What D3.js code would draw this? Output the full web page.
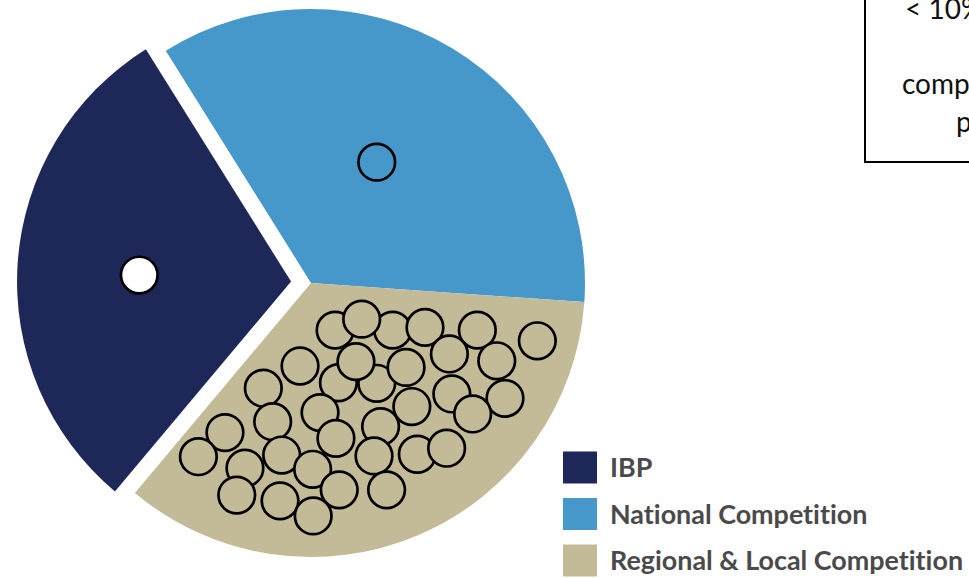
<!DOCTYPE html>
<html>
<head>
<meta charset="utf-8">
<script src="https://cdn.jsdelivr.net/npm/d3@7/dist/d3.min.js"></script>
<style>
  html, body { margin: 0; padding: 0; background: #fff; }
  svg { display: block; }
  text { font-variant-ligatures: none; }
</style>
</head>
<body>
<svg id="chart" width="969" height="578"></svg>
<script>
// Segment names and their share of the market (percent)
const categories = ["IBP", "National Competition", "Regional & Local Competition"];
const shares = [30, 35, 35];

// One circle per company, placed in each segment's own frame
// (units are fractions of the pie radius, measured from the segment's centre)
const ibpCompanyX = [-0.554];
const ibpCompanyY = [-0.024];
const nationalCompanyX = [0.240];
const nationalCompanyY = [-0.441];
const regionalCompanyX = [
  0.088, 0.298, 0.185, 0.416, 0.607, 0.826, -0.040, 0.100, 0.240, 0.164,
  0.347, 0.505, 0.678, -0.174, 0.033, 0.368, 0.514, 0.708, 0.590, -0.140,
  0.254, 0.091, -0.314, -0.411, -0.107, 0.230, 0.388, 0.495, -0.241, 0.006,
  -0.271, -0.113, 0.103, 0.276, 0.008
];
const regionalCompanyY = [
  0.172, 0.172, 0.132, 0.162, 0.172, 0.211, 0.303, 0.364, 0.366, 0.287,
  0.308, 0.259, 0.284, 0.384, 0.473, 0.451, 0.405, 0.421, 0.478, 0.506,
  0.524, 0.567, 0.546, 0.634, 0.628, 0.631, 0.625, 0.603, 0.676, 0.680,
  0.774, 0.795, 0.755, 0.755, 0.850
];

// Note box text
const noteLines = ["< 10% market share", "each", "competitors", "per region"];

const sliceColors = ["#1e2858", "#4698ca", "#c3bb98"];
const companyFill = ["#ffffff", "#4698ca", "#c3bb98"];

const svg = d3.select("#chart");
const cx = 311, cy = 283, R = 274;
const explode = [20, 0, 0];

const pie = d3.pie()
  .sort(null)
  .value(d => d)
  .startAngle(-140 * Math.PI / 180)
  .endAngle(220 * Math.PI / 180);
const arcs = pie(shares);
const arc = d3.arc().innerRadius(0).outerRadius(R);

// Offset of each segment's centre (exploded segments move along their bisector)
const offsets = arcs.map((a, i) => {
  const mid = (a.startAngle + a.endAngle) / 2;
  return [Math.sin(mid) * explode[i], -Math.cos(mid) * explode[i]];
});

const slices = svg.append("g").attr("transform", `translate(${cx},${cy})`);
slices.selectAll("path.slice")
  .data(arcs)
  .join("path")
  .attr("class", "slice")
  .attr("d", arc)
  .attr("fill", (d, i) => sliceColors[i])
  .attr("transform", (d, i) => `translate(${offsets[i][0]},${offsets[i][1]})`);

// Scales mapping the normalised company positions to pixels
const sx = d3.scaleLinear().domain([-1, 1]).range([-R, R]);
const sy = d3.scaleLinear().domain([-1, 1]).range([-R, R]);

const companySets = [
  d3.zip(ibpCompanyX, ibpCompanyY),
  d3.zip(nationalCompanyX, nationalCompanyY),
  d3.zip(regionalCompanyX, regionalCompanyY)
];

companySets.forEach((pts, i) => {
  slices.append("g")
    .attr("transform", `translate(${offsets[i][0]},${offsets[i][1]})`)
    .selectAll("circle")
    .data(pts)
    .join("circle")
    .attr("cx", d => sx(d[0]))
    .attr("cy", d => sy(d[1]))
    .attr("r", 18.3)
    .attr("fill", companyFill[i])
    .attr("stroke", "#000")
    .attr("stroke-width", 2.7);
});

// Legend
const legend = svg.append("g").attr("transform", "translate(563,0)");
const legendBase = d3.scalePoint().domain(categories).range([477, 570]);
const items = legend.selectAll("g.item")
  .data(categories)
  .join("g")
  .attr("class", "item")
  .attr("transform", d => `translate(0,${legendBase(d)})`);
items.append("rect")
  .attr("x", 0).attr("y", -25.5)
  .attr("width", 34).attr("height", 32)
  .attr("fill", (d, i) => sliceColors[i]);
items.append("text")
  .attr("x", 47).attr("y", 0)
  .attr("font-family", "Lato, 'Open Sans', sans-serif")
  .attr("font-weight", 700)
  .attr("font-size", 26.9)
  .attr("fill", "#4a4a4a")
  .text(d => d);

// Note box in the top right corner
const note = svg.append("g");
note.append("rect")
  .attr("x", 865).attr("y", -20)
  .attr("width", 300).attr("height", 182)
  .attr("fill", "#fff")
  .attr("stroke", "#000")
  .attr("stroke-width", 2);
const noteX = [905, 990, 902, 956];
const noteY = d3.scaleLinear().domain([0, 3]).range([19, 132]);
note.selectAll("text")
  .data(noteLines)
  .join("text")
  .attr("x", (d, i) => noteX[i])
  .attr("y", (d, i) => noteY(i))
  .attr("font-family", "Lato, 'Open Sans', sans-serif")
  .attr("font-size", 28)
  .attr("fill", "#111")
  .text(d => d);
</script>
</body>
</html>
